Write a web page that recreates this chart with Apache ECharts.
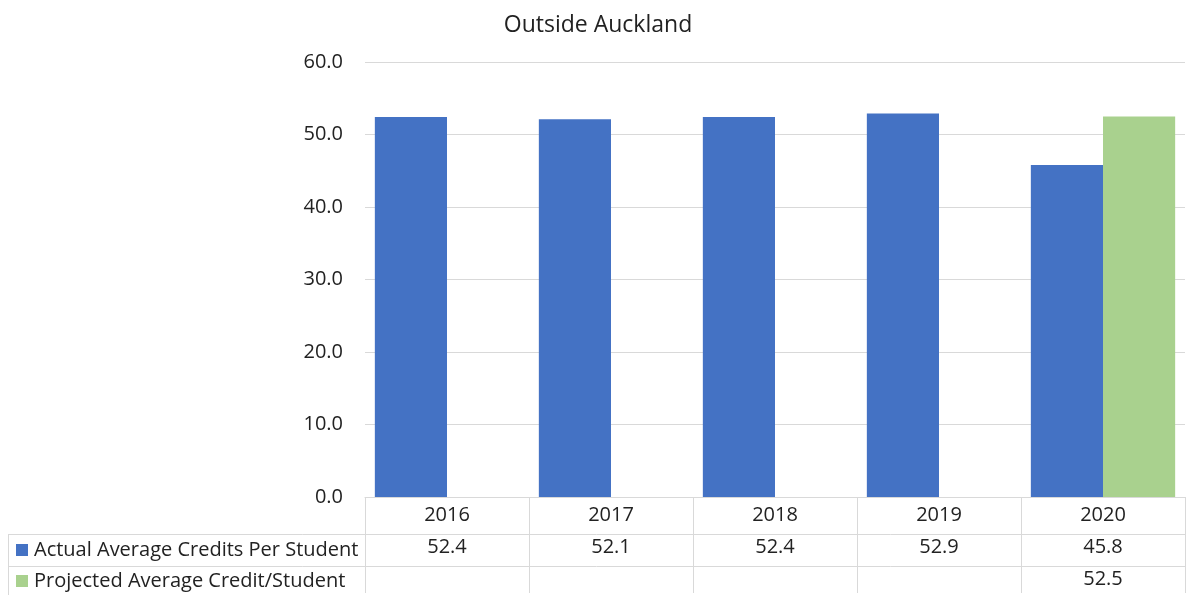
<!DOCTYPE html>
<html>
<head>
<meta charset="utf-8">
<script src="https://cdn.jsdelivr.net/npm/echarts@6/dist/echarts.min.js"></script>
<style>
  html, body { margin: 0; padding: 0; background: #fff; }
  #main { width: 1187px; height: 595px; }
</style>
</head>
<body>
<div id="main"></div>
<script>
const years = ['2016', '2017', '2018', '2019', '2020']
const actual = [52.4, 52.1, 52.4, 52.9, 45.8]
const projected = [null, null, null, null, 52.5]
const seriesNames = ['Actual Average Credits Per Student', 'Projected Average Credit/Student']

// layout of the plot + the data table under it
const gridLeft = 365, gridRight = 2, gridTop = 62, gridBottom = 96
const rowLines = [35, 67]   // offsets below axis of the table row separators
const tableLeft = 8
const W = 1187, H = 595
const axisY = H - gridBottom
const lineColor = '#d9d9d9'
const font = 'Open Sans'

var myChart = echarts.init(document.querySelector('#main'))

// table lines (row separators + left border)
const graphics = rowLines.map(off => ({
  type: 'line',
  shape: { x1: tableLeft, y1: axisY + off + 0.5, x2: W - gridRight, y2: axisY + off + 0.5 },
  style: { stroke: lineColor, lineWidth: 1 }
}))
graphics.push({
  type: 'line',
  shape: { x1: tableLeft + 0.5, y1: axisY + rowLines[0], x2: tableLeft + 0.5, y2: H },
  style: { stroke: lineColor, lineWidth: 1 }
})

const option = {
  title: {
    text: 'Outside Auckland',
    left: 593,
    textAlign: 'center',
    top: 9,
    textStyle: {
      fontFamily: font,
      fontWeight: 'normal',
      fontSize: 23,
      color: '#222'
    }
  },
  legend: {
    orient: 'vertical',
    left: 16,
    top: axisY + 41,
    height: 60,
    padding: 0,
    itemWidth: 12,
    itemHeight: 12,
    itemGap: 11,
    icon: 'rect',
    textStyle: { fontFamily: font, fontSize: 20, lineHeight: 20, color: '#222', padding: [0, 0, 0, 1] },
    data: seriesNames
  },
  grid: {
    left: gridLeft,
    right: gridRight,
    top: gridTop,
    bottom: gridBottom
  },
  xAxis: {
    type: 'category',
    data: years,
    axisLine: { lineStyle: { color: lineColor } },
    axisTick: { show: true, length: H - axisY, lineStyle: { color: lineColor } },
    axisLabel: {
      margin: 2,
      lineHeight: 32,
      fontFamily: font,
      fontSize: 20,
      color: '#222',
      formatter: function (v, i) {
        const a = actual[i] == null ? ' ' : actual[i].toFixed(1)
        const p = projected[i] == null ? ' ' : projected[i].toFixed(1)
        return v + '\n' + a + '\n' + p
      }
    }
  },
  yAxis: {
    type: 'value',
    min: 0,
    max: 60,
    interval: 10,
    axisLabel: {
      margin: 22,
      fontFamily: font,
      fontSize: 20,
      color: '#222',
      formatter: v => v.toFixed(1)
    },
    splitLine: { lineStyle: { color: lineColor } }
  },
  series: [
    {
      name: seriesNames[0],
      type: 'bar',
      data: actual,
      barGap: 0,
      barCategoryGap: '12%',
      itemStyle: { color: '#4472C4' }
    },
    {
      name: seriesNames[1],
      type: 'bar',
      data: projected,
      itemStyle: { color: '#A9D18E' }
    }
  ],
  graphic: graphics
}

myChart.setOption(option)
</script>
</body>
</html>
